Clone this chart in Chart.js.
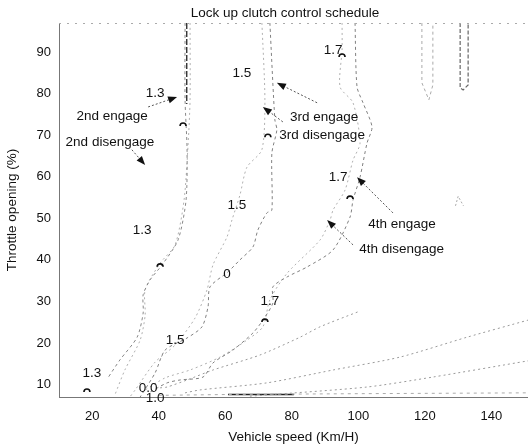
<!DOCTYPE html>
<html>
<head>
<meta charset="utf-8">
<script src="https://cdn.jsdelivr.net/npm/chart.js@4.4.1/dist/chart.umd.min.js"></script>
<style>
  html, body { margin: 0; padding: 0; background: #fff; }
</style>
</head>
<body>
<canvas id="chart" width="528" height="447"></canvas>
<script>
'use strict';

// axis ticks
const speedTicks = [20, 40, 60, 80, 100, 120, 140];
const throttleTicks = [10, 20, 30, 40, 50, 60, 70, 80, 90];

// contour lines, [speed, throttle]
const engage2 = [[47.9, 97], [47.9, 78.5], [48.5, 66.5], [48.2, 54.4], [45.8, 44.8], [41.0, 38.8], [37.4, 35.2], [35.3, 31.6], [35.3, 27.2], [33.5, 21.4], [28.3, 15.9], [24.7, 11.6]];
const engage2Top = [[48.4, 97], [48.4, 77.5]];
const disengage2 = [[49.4, 97], [49.4, 78.5], [48.8, 67.6], [47.6, 54.4], [44.9, 43.6], [40.4, 39.2], [35.9, 32.8], [35.9, 26.7], [34.4, 20.7], [29.8, 13.5], [26.8, 7.5]];
const engage3 = [[73.4, 97], [74.9, 73.7], [75.5, 71.3], [74.0, 65.7], [74.0, 52.0], [72.5, 51.3], [69.8, 47.2], [68.3, 43.1], [64.4, 40.0], [60.8, 37.1], [55.4, 33.5], [54.8, 28.7], [53.0, 23.9], [48.5, 21.2], [41.9, 18.3], [38.9, 12.8], [34.4, 7]];
const disengage3 = [[71.0, 97], [71.9, 78.5], [71.0, 66.5], [66.5, 62.3], [64.4, 55.6], [62.0, 49.6], [60.5, 45.5], [56.3, 38.8], [54.5, 32.8], [50.9, 26.0], [44.9, 19.5], [38.9, 15.4], [32.9, 8.7], [31.3, 7]];
const engage4 = [[99.0, 97], [99.6, 81.6], [101.4, 77.8], [104.1, 72.0], [102.6, 68.1], [100.5, 59.9], [98.4, 54.4], [97.5, 50.3], [92.4, 42.4], [84.6, 38.3], [78.6, 35.9], [74.3, 33.5], [74.3, 29.6], [71.3, 25.5], [68.3, 22.4], [62.3, 18.3], [56.3, 15.2], [53.3, 11.8], [46.4, 11.1], [42.5, 10.4], [37.4, 8.2]];
const disengage4 = [[95.1, 97], [95.1, 90.5], [94.5, 81.6], [98.4, 77.8], [100.5, 68.1], [98.4, 64.0], [96.0, 56.8], [92.4, 52.0], [91.5, 49.6], [88.5, 44.8], [78.6, 36.8], [73.4, 30.4], [71.3, 23.9], [66.5, 20.7], [58.4, 16.6], [49.4, 13.5], [41.9, 11.6], [35.9, 8.7]];
const fan1 = [[40.4, 9.2], [42.5, 9.4], [48.5, 11.1], [56.3, 13.5], [70.4, 17.1], [82.5, 21.4], [88.5, 23.9], [99.9, 27.5]];
const fan2 = [[47.9, 8.0], [52.4, 8.7], [72.5, 10.4], [92.4, 13.5], [112.5, 16.6], [132.7, 21.4], [151, 25.5]];
const fan3 = [[67.4, 7.2], [72.5, 7.5], [102.6, 9.4], [122.4, 11.8], [151, 15.7]];
const fan4 = [[40, 7.4], [60.8, 7.6], [100, 7.8], [151, 8.0]];
const fan4Dark = [[60.8, 7.6], [80.6, 7.6]];
const spike1 = [[119.1, 97], [119.1, 82.6], [121.2, 78.5], [122.4, 82.1], [122.4, 97]];
const spike2 = [[130.6, 97], [130.6, 81.4], [131.5, 80.9], [133.0, 82.1], [133.0, 97]];
const spike3 = [[129.2, 53.0], [130.0, 55.3], [131.6, 53.0]];

// contour labels
const noteText = ['1.3', '2nd engage', '2nd disengage', '1.5', '3rd engage', '3rd disengage', '1.7', '1.7', '4th engage', '4th disengage', '1.3', '1.5', '0', '1.7', '1.5', '1.3', '0.0', '1.0'];
const noteSpeed = [38.9, 26.0, 25.3, 65.0, 89.7, 89.1, 92.4, 93.9, 113.1, 113.0, 35.0, 63.5, 60.5, 73.4, 44.9, 19.9, 36.8, 38.9];
const noteThrottle = [80.2, 74.6, 68.4, 85.0, 74.4, 70.0, 90.5, 59.9, 48.6, 42.6, 47.2, 53.2, 36.6, 30.1, 20.7, 12.8, 9.2, 6.6];

// clipped "0" labels
const capSpeed = [47.3, 72.8, 95.1, 97.5, 40.4, 71.9, 18.4];
const capThrottle = [72.7, 70.0, 89.3, 55.1, 38.8, 25.5, 8.7];

// arrows: tail -> head
const arrowTail = [[36.8, 76.8], [31.9, 66.5], [87.6, 77.8], [77.3, 73.2], [110.4, 51.3], [98.4, 43.6]];
const arrowHead = [[45.5, 79.2], [35.9, 62.8], [75.5, 82.6], [71.3, 76.8], [99.6, 59.9], [90.6, 49.6]];

const fontFamily = '"Liberation Sans", Arial, sans-serif';
Chart.defaults.font.family = fontFamily;
Chart.defaults.color = '#111';

function toPoints(list) {
  return list.map(p => ({ x: p[0], y: p[1] }));
}

function curve(list, color, dash, width, tension) {
  return {
    data: toPoints(list),
    borderColor: color,
    borderDash: dash,
    borderWidth: width,
    pointRadius: 0,
    tension: tension,
    fill: false
  };
}

const notesPlugin = {
  id: 'notes',
  afterDatasetsDraw(chart) {
    const ctx = chart.ctx;
    const xs = chart.scales.x;
    const ys = chart.scales.y;
    const area = chart.chartArea;
    ctx.save();

    // faint top frame
    ctx.strokeStyle = '#aaa';
    ctx.lineWidth = 1;
    ctx.setLineDash([2, 6]);
    ctx.beginPath();
    ctx.moveTo(area.left, area.top + 0.5);
    ctx.lineTo(area.right, area.top + 0.5);
    ctx.stroke();

    // arrows
    for (let i = 0; i < arrowTail.length; i++) {
      const x0 = xs.getPixelForValue(arrowTail[i][0]);
      const y0 = ys.getPixelForValue(arrowTail[i][1]);
      const x1 = xs.getPixelForValue(arrowHead[i][0]);
      const y1 = ys.getPixelForValue(arrowHead[i][1]);
      const ang = Math.atan2(y1 - y0, x1 - x0);
      ctx.strokeStyle = '#555';
      ctx.setLineDash([2, 2]);
      ctx.beginPath();
      ctx.moveTo(x0, y0);
      ctx.lineTo(x1 - 6 * Math.cos(ang), y1 - 6 * Math.sin(ang));
      ctx.stroke();
      ctx.setLineDash([]);
      ctx.fillStyle = '#111';
      ctx.beginPath();
      ctx.moveTo(x1, y1);
      ctx.lineTo(x1 - 9 * Math.cos(ang) + 3.5 * Math.sin(ang), y1 - 9 * Math.sin(ang) - 3.5 * Math.cos(ang));
      ctx.lineTo(x1 - 9 * Math.cos(ang) - 3.5 * Math.sin(ang), y1 - 9 * Math.sin(ang) + 3.5 * Math.cos(ang));
      ctx.closePath();
      ctx.fill();
    }

    // clipped zeros
    ctx.setLineDash([]);
    ctx.strokeStyle = '#111';
    ctx.lineWidth = 1.6;
    for (let i = 0; i < capSpeed.length; i++) {
      const cx = xs.getPixelForValue(capSpeed[i]);
      const cy = ys.getPixelForValue(capThrottle[i]);
      ctx.beginPath();
      ctx.arc(cx, cy + 2, 3, Math.PI, 0);
      ctx.stroke();
    }

    // text labels
    ctx.fillStyle = '#111';
    ctx.font = '13.5px ' + fontFamily;
    ctx.textAlign = 'center';
    ctx.textBaseline = 'middle';
    for (let i = 0; i < noteText.length; i++) {
      ctx.fillText(noteText[i], xs.getPixelForValue(noteSpeed[i]), ys.getPixelForValue(noteThrottle[i]));
    }

    // title
    ctx.fillText('Lock up clutch control schedule', 285, 13);
    ctx.restore();
  }
};

const lightGray = '#9a9a9a';

new Chart(document.getElementById('chart'), {
  type: 'line',
  data: {
    datasets: [
      curve(engage2, '#888', [3, 3], 1, 0.25),
      curve(engage2Top, '#333', [6, 2], 1.4, 0),
      curve(disengage2, '#b0b0b0', [2, 3], 1, 0.25),
      curve(engage3, '#808080', [3, 3], 1, 0.25),
      curve(disengage3, '#b0b0b0', [2, 3], 1, 0.25),
      curve(engage4, '#808080', [3, 3], 1, 0.25),
      curve(disengage4, '#b0b0b0', [2, 3], 1, 0.25),
      curve(fan1, lightGray, [2, 3], 1, 0.25),
      curve(fan2, lightGray, [2, 3], 1, 0.25),
      curve(fan3, lightGray, [2, 3], 1, 0.25),
      curve(fan4, '#aaa', [3, 4], 1, 0),
      curve(fan4Dark, '#222', [], 1.6, 0),
      curve(spike1, '#aaa', [3, 3], 1, 0),
      curve(spike2, '#666', [4, 2], 1.2, 0),
      curve(spike3, '#aaa', [2, 2], 1, 0)
    ]
  },
  options: {
    responsive: false,
    animation: false,
    layout: { padding: { top: 23, right: 0, bottom: 0, left: 0 } },
    plugins: {
      legend: { display: false },
      tooltip: { enabled: false }
    },
    scales: {
      x: {
        type: 'linear',
        min: 10,
        max: 151,
        grid: { display: false, drawTicks: false },
        border: { display: true, color: '#777', dash: [2, 3] },
        ticks: { font: { size: 13 }, padding: 12, maxRotation: 0 },
        afterBuildTicks: scale => { scale.ticks = speedTicks.map(v => ({ value: v })); },
        afterFit: scale => { scale.height = 50; },
        title: { display: true, text: 'Vehicle speed (Km/H)', font: { size: 13.5 }, padding: { top: 0, bottom: 2 } }
      },
      y: {
        type: 'linear',
        min: 7,
        max: 97,
        grid: { display: false, drawTicks: false },
        border: { display: true, color: '#777', dash: [4, 3] },
        ticks: { font: { size: 13 }, padding: 8 },
        afterBuildTicks: scale => { scale.ticks = throttleTicks.map(v => ({ value: v })); },
        afterFit: scale => { scale.width = 59; },
        title: { display: true, text: 'Throttle opening (%)', font: { size: 13.5 }, padding: 4 }
      }
    }
  },
  plugins: [notesPlugin]
});
</script>
</body>
</html>
